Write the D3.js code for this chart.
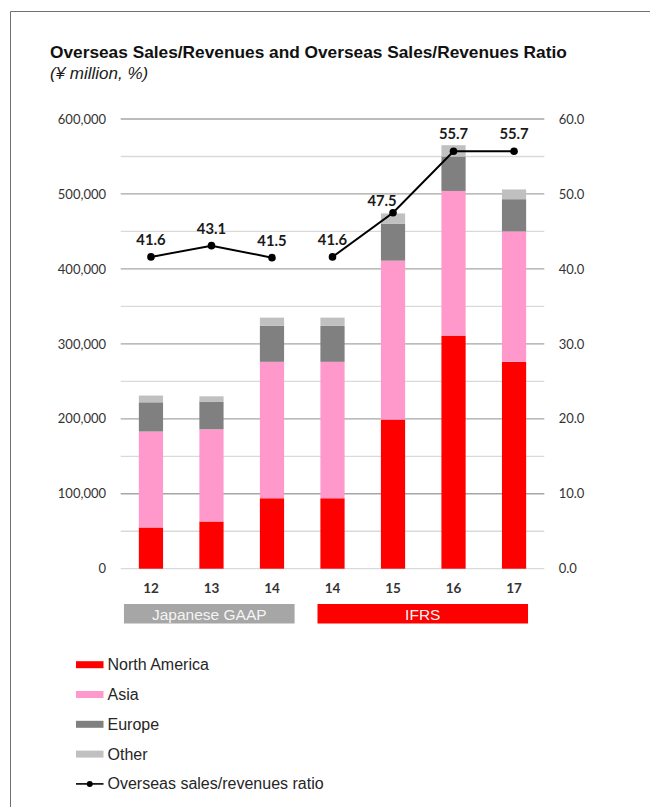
<!DOCTYPE html>
<html>
<head>
<meta charset="utf-8">
<script src="https://cdn.jsdelivr.net/npm/d3@7"></script>
<style>
  body { margin: 0; background: #fff; }
  svg { display: block; }
  .tick text { font-family: Lato, "Open Sans", sans-serif; fill: #333; }
</style>
</head>
<body>
<script>
// fiscal years (14 appears twice: Japanese GAAP and IFRS)
var periods = ["12", "13", "14", "14", "15", "16", "17"];
var basis = ["Japanese GAAP", "Japanese GAAP", "Japanese GAAP", "IFRS", "IFRS", "IFRS", "IFRS"];

// overseas sales/revenues by region, ¥ million
var northAmerica = [55000, 63000, 94000, 94000, 199000, 311000, 276000];
var asia = [128000, 123000, 182000, 182000, 212000, 193000, 174000];
var europe = [39000, 37000, 48000, 48000, 49000, 46000, 43000];
var other = [9000, 7000, 11000, 11000, 14000, 15000, 13000];

// overseas sales/revenues ratio, %
var ratio = [41.6, 43.1, 41.5, 41.6, 47.5, 55.7, 55.7];

var leftTicks = [0, 100000, 200000, 300000, 400000, 500000, 600000];
var rightTicks = [0, 10, 20, 30, 40, 50, 60];
var gridValues = d3.range(0, 600001, 50000);

var regions = ["North America", "Asia", "Europe", "Other"];
var colors = ["#ff0000", "#ff99cc", "#808080", "#c0c0c0"];
var basisColors = { "Japanese GAAP": "#a6a6a6", "IFRS": "#ff0000" };

var width = 650, height = 807;
var svg = d3.select("body").append("svg")
    .attr("width", width)
    .attr("height", height);

// frame
svg.append("path")
    .attr("d", "M10.5," + height + "V11.5H" + width)
    .attr("fill", "none")
    .attr("stroke", "#707070")
    .attr("stroke-width", 1);

svg.append("text")
    .attr("x", 50).attr("y", 58)
    .attr("font-family", "'Liberation Sans', Arial, sans-serif")
    .attr("font-weight", "bold")
    .attr("font-size", 17.3)
    .attr("fill", "#111")
    .text("Overseas Sales/Revenues and Overseas Sales/Revenues Ratio");

svg.append("text")
    .attr("x", 50).attr("y", 79)
    .attr("font-family", "'Liberation Sans', Arial, sans-serif")
    .attr("font-style", "italic")
    .attr("font-size", 17)
    .attr("fill", "#1a1a1a")
    .text("(¥ million, %)");

var plotLeft = 120.7, plotRight = 544.3, plotTop = 119, plotBottom = 568.7;

var x = d3.scaleBand()
    .domain(d3.range(periods.length))
    .range([plotLeft, plotRight])
    .paddingInner(0.6)
    .paddingOuter(0.3);

var y = d3.scaleLinear().domain([0, 600000]).range([plotBottom, plotTop]);
var y2 = d3.scaleLinear().domain([0, 60]).range([plotBottom, plotTop]);

// gridlines
svg.append("g").selectAll("line")
  .data(gridValues)
  .join("line")
    .attr("x1", plotLeft).attr("x2", plotRight)
    .attr("y1", d => y(d)).attr("y2", d => y(d))
    .attr("stroke", d => (d % 100000 === 0 && d > 0) ? "#a6a6a6" : "#d9d9d9")
    .attr("stroke-width", 1.3);

// stacked bars
var table = periods.map((p, i) => ({
  "North America": northAmerica[i],
  "Asia": asia[i],
  "Europe": europe[i],
  "Other": other[i],
  index: i
}));
var stacked = d3.stack().keys(regions)(table);

svg.append("g").selectAll("g")
  .data(stacked)
  .join("g")
    .attr("fill", (d, k) => colors[k])
  .selectAll("rect")
  .data(d => d)
  .join("rect")
    .attr("x", d => x(d.data.index))
    .attr("width", x.bandwidth())
    .attr("y", d => y(d[1]))
    .attr("height", d => y(d[0]) - y(d[1]));

// axes
var axisLeft = svg.append("g")
    .attr("transform", "translate(" + plotLeft + ",0)")
    .call(d3.axisLeft(y).tickValues(leftTicks).tickFormat(d3.format(",")).tickSize(0).tickPadding(14.7));
axisLeft.select(".domain").remove();
axisLeft.selectAll("text").attr("font-size", 13);

var axisRight = svg.append("g")
    .attr("transform", "translate(" + plotRight + ",0)")
    .call(d3.axisRight(y2).tickValues(rightTicks).tickFormat(d3.format(".1f")).tickSize(0).tickPadding(14.4));
axisRight.select(".domain").remove();
axisRight.selectAll("text").attr("font-size", 13);

var axisBottom = svg.append("g")
    .attr("transform", "translate(0," + plotBottom + ")")
    .call(d3.axisBottom(x).tickFormat(i => periods[i]).tickSize(0).tickPadding(15));
axisBottom.select(".domain").remove();
axisBottom.selectAll("text")
    .attr("font-size", 13.5)
    .attr("font-weight", "bold")
    .attr("fill", "#1a1a1a");

// accounting basis boxes
var groups = d3.groups(d3.range(periods.length), i => basis[i]);
var boxPad = { "Japanese GAAP": [27, 22.6], "IFRS": [15, 14] };
var boxes = svg.append("g").selectAll("g")
  .data(groups)
  .join("g");
boxes.append("rect")
    .attr("x", d => x(d[1][0]) + x.bandwidth() / 2 - boxPad[d[0]][0])
    .attr("width", d => x(d[1][d[1].length - 1]) - x(d[1][0]) + boxPad[d[0]][0] + boxPad[d[0]][1])
    .attr("y", 604)
    .attr("height", 19.5)
    .attr("fill", d => basisColors[d[0]]);
boxes.append("text")
    .attr("x", d => (x(d[1][0]) + x(d[1][d[1].length - 1])) / 2 + x.bandwidth() / 2 + (boxPad[d[0]][1] - boxPad[d[0]][0]) / 2)
    .attr("y", 619.5)
    .attr("text-anchor", "middle")
    .attr("font-family", "'Liberation Sans', Arial, sans-serif")
    .attr("font-size", 15.5)
    .attr("fill", "#f4f4f4")
    .text(d => d[0]);

// ratio line, broken where the accounting basis changes
var line = d3.line()
    .x(i => x(i) + x.bandwidth() / 2)
    .y(i => y2(ratio[i]));

svg.append("g").selectAll("path")
  .data(groups)
  .join("path")
    .attr("d", d => line(d[1]))
    .attr("fill", "none")
    .attr("stroke", "#000")
    .attr("stroke-width", 2);

svg.append("g").selectAll("circle")
  .data(d3.range(periods.length))
  .join("circle")
    .attr("cx", i => x(i) + x.bandwidth() / 2)
    .attr("cy", i => y2(ratio[i]))
    .attr("r", 3.8)
    .attr("fill", "#000");

var labelNudge = { 4: [-11, 5] };
svg.append("g").selectAll("text")
  .data(d3.range(periods.length))
  .join("text")
    .attr("x", i => x(i) + x.bandwidth() / 2 + (labelNudge[i] ? labelNudge[i][0] : 0))
    .attr("y", i => y2(ratio[i]) - 12 + (labelNudge[i] ? labelNudge[i][1] : 0))
    .attr("text-anchor", "middle")
    .attr("font-family", "Lato, 'Open Sans', sans-serif")
    .attr("font-weight", "bold")
    .attr("font-size", 14.8)
    .attr("fill", "#1a1a1a")
    .text(i => d3.format(".1f")(ratio[i]));

// legend
var legendItems = regions.concat(["Overseas sales/revenues ratio"]);
var legend = svg.append("g").selectAll("g")
  .data(legendItems)
  .join("g")
    .attr("transform", (d, i) => "translate(76," + (664.7 + i * 29.8) + ")");

legend.filter((d, i) => i < regions.length).append("rect")
    .attr("x", 0).attr("y", -3.5)
    .attr("width", 27.5).attr("height", 7)
    .attr("fill", (d, i) => colors[i]);

var ratioKey = legend.filter((d, i) => i === regions.length);
ratioKey.append("line")
    .attr("x1", 0).attr("x2", 27.5)
    .attr("stroke", "#000").attr("stroke-width", 1.6);
ratioKey.append("circle")
    .attr("cx", 13.75).attr("r", 3)
    .attr("fill", "#000");

legend.append("text")
    .attr("x", 31.5)
    .attr("y", 5.5)
    .attr("font-family", "'Liberation Sans', Arial, sans-serif")
    .attr("font-size", 16)
    .attr("fill", "#262626")
    .text(d => d);
</script>
</body>
</html>
